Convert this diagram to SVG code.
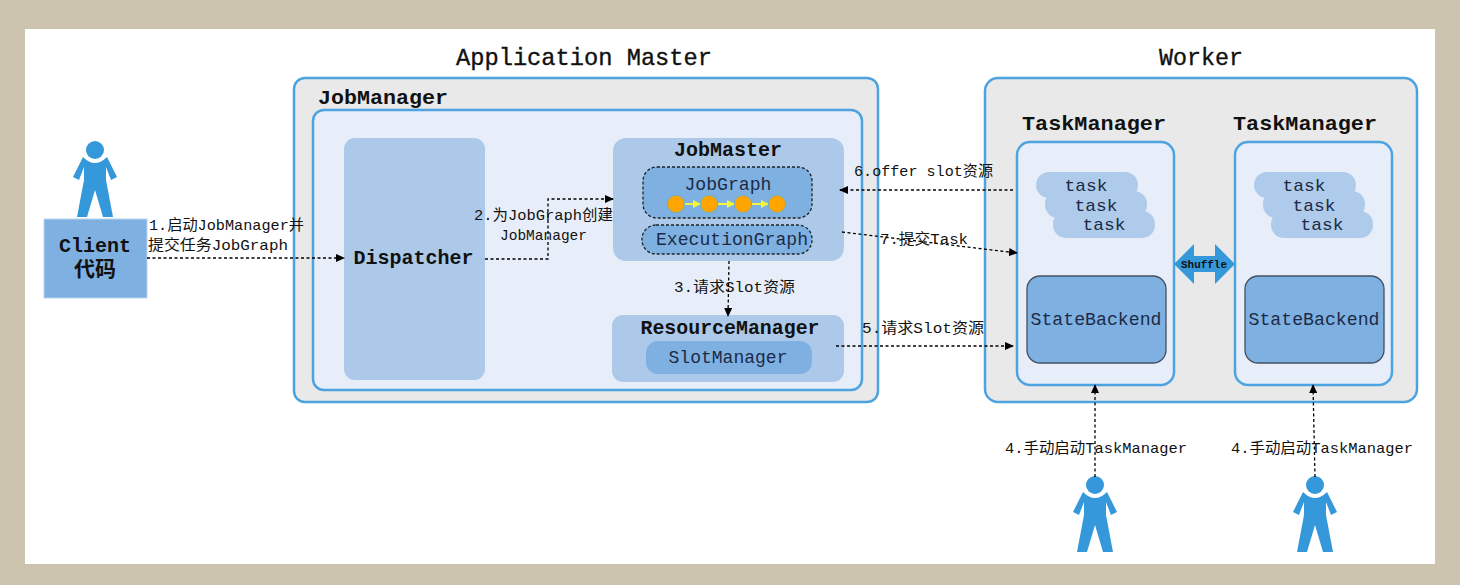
<svg xmlns="http://www.w3.org/2000/svg" width="1460" height="585" viewBox="0 0 1460 585">
<style>
text{font-family:"Liberation Mono","Noto Sans CJK SC",monospace;fill:#111}
.title{font-size:24px;stroke:#111;stroke-width:.35}
.h{font-size:21px;font-weight:bold}
.m{font-size:19px;fill:#1c2b45}
.t{font-size:17px;fill:#1c2b45}
.l{font-size:15px}
.outer{fill:#e9e9e9;stroke:#4da3e0;stroke-width:2.5}
.inner{fill:#e7eef9;stroke:#4da3e0;stroke-width:2.5}
.soft{fill:#acc9ea}
.mid{fill:#7fb0e2}
.dash{fill:#7fb0e2;stroke:#222;stroke-width:1.3;stroke-dasharray:3 2}
.pill{fill:#aecbec}
.sb{fill:#7fb0e2;stroke:#444f60;stroke-width:1.3}
.c{fill:none;stroke:#000;stroke-width:1.3;stroke-dasharray:3 2.5}
.dot{fill:#ffa500;stroke:#6fb0c0;stroke-width:1}
.y{stroke:#f5f53c;stroke-width:2;fill:none}
</style>
<defs>
<marker id="a" markerWidth="9" markerHeight="8" refX="8" refY="4" orient="auto" markerUnits="userSpaceOnUse"><path d="M0 0L9 4L0 8z" fill="#000"/></marker>
<marker id="ay" markerWidth="8" markerHeight="8" refX="8" refY="4" orient="auto" markerUnits="userSpaceOnUse"><path d="M0 0L8 4L0 8z" fill="#f5f53c"/></marker>
<g id="person"><ellipse cx="0" cy="0" rx="9" ry="9" fill="#3498db"/><path d="M-12 7Q0 19 12 7L22 27L16 30L11 17V30L18 67H8L0 40L-8 67H-18L-11 30V17L-16 30L-22 27Z" fill="#3498db"/></g>
</defs>
<rect width="1460" height="585" fill="#cdc4b0"/>
<rect x="25" y="29" width="1410" height="535" fill="#fff"/>

<g id="application-master">
<rect class="outer" x="294" y="78" width="584" height="324" rx="11"/>
<text class="title" x="584" y="65" text-anchor="middle" textLength="256" lengthAdjust="spacingAndGlyphs">Application Master</text>
</g>
<g id="jobmanager">
<text class="h" x="318" y="104" textLength="130" lengthAdjust="spacingAndGlyphs">JobManager</text>
<rect class="inner" x="313" y="110" width="549" height="280" rx="11"/>
</g>
<g id="dispatcher">
<rect class="soft" x="344" y="138" width="141" height="242" rx="11"/>
<text class="h" x="413.500" y="264" text-anchor="middle" textLength="120" lengthAdjust="spacingAndGlyphs">Dispatcher</text>
</g>
<g id="jobmaster">
<rect class="soft" x="613" y="138" width="231" height="123" rx="13"/>
<text class="h" x="728" y="156" text-anchor="middle" textLength="108" lengthAdjust="spacingAndGlyphs">JobMaster</text>
</g>
<g id="jobgraph">
<rect class="dash" x="643" y="167" width="169" height="51" rx="14"/>
<text class="m" x="728" y="190" text-anchor="middle" textLength="87" lengthAdjust="spacingAndGlyphs">JobGraph</text>
<path class="y" marker-end="url(#ay)" d="M685 204H701"/>
<path class="y" marker-end="url(#ay)" d="M718 204H735"/>
<path class="y" marker-end="url(#ay)" d="M751 204H769"/>
<circle class="dot" cx="676" cy="204" r="8.700"/>
<circle class="dot" cx="709" cy="204" r="8.700"/>
<circle class="dot" cx="743" cy="204" r="8.700"/>
<circle class="dot" cx="777" cy="204" r="8.700"/>
</g>
<g id="executiongraph">
<rect class="dash" x="642" y="225" width="170" height="29" rx="14"/>
<text class="m" x="732" y="245" text-anchor="middle" textLength="152" lengthAdjust="spacingAndGlyphs">ExecutionGraph</text>
</g>
<g id="resourcemanager">
<rect class="soft" x="612" y="315" width="232" height="67" rx="11"/>
<text class="h" x="730" y="334" text-anchor="middle" textLength="179" lengthAdjust="spacingAndGlyphs">ResourceManager</text>
</g>
<g id="slotmanager">
<rect class="mid" x="646" y="341" width="166" height="33" rx="12"/>
<text class="m" x="728" y="363" text-anchor="middle" textLength="119" lengthAdjust="spacingAndGlyphs">SlotManager</text>
</g>

<g id="worker">
<rect class="outer" x="985" y="78" width="432" height="324" rx="13"/>
<text class="title" x="1201" y="65" text-anchor="middle" textLength="84" lengthAdjust="spacingAndGlyphs">Worker</text>
</g>
<g id="taskmanager-1">
<text class="h" x="1094" y="130" text-anchor="middle" textLength="144" lengthAdjust="spacingAndGlyphs">TaskManager</text>
<rect class="inner" x="1017" y="142" width="157" height="243" rx="13"/>
<rect class="pill" x="1036" y="172" width="102" height="26" rx="13"/>
<rect class="pill" x="1045" y="191" width="102" height="27" rx="13"/>
<rect class="pill" x="1053" y="211" width="102" height="27" rx="13"/>
<text class="t" x="1086" y="191" text-anchor="middle" textLength="43" lengthAdjust="spacingAndGlyphs">task</text>
<text class="t" x="1096" y="211" text-anchor="middle" textLength="43" lengthAdjust="spacingAndGlyphs">task</text>
<text class="t" x="1104" y="230" text-anchor="middle" textLength="43" lengthAdjust="spacingAndGlyphs">task</text>
<rect class="sb" x="1027" y="276" width="139" height="87" rx="13"/>
<text class="m" x="1096" y="325" text-anchor="middle" textLength="131" lengthAdjust="spacingAndGlyphs">StateBackend</text>
</g>
<g id="taskmanager-2">
<text class="h" x="1305" y="130" text-anchor="middle" textLength="144" lengthAdjust="spacingAndGlyphs">TaskManager</text>
<rect class="inner" x="1235" y="142" width="157" height="243" rx="13"/>
<rect class="pill" x="1254" y="172" width="102" height="26" rx="13"/>
<rect class="pill" x="1263" y="191" width="102" height="27" rx="13"/>
<rect class="pill" x="1271" y="211" width="102" height="27" rx="13"/>
<text class="t" x="1304" y="191" text-anchor="middle" textLength="43" lengthAdjust="spacingAndGlyphs">task</text>
<text class="t" x="1314" y="211" text-anchor="middle" textLength="43" lengthAdjust="spacingAndGlyphs">task</text>
<text class="t" x="1322" y="230" text-anchor="middle" textLength="43" lengthAdjust="spacingAndGlyphs">task</text>
<rect class="sb" x="1245" y="276" width="139" height="87" rx="13"/>
<text class="m" x="1314" y="325" text-anchor="middle" textLength="131" lengthAdjust="spacingAndGlyphs">StateBackend</text>
</g>
<g id="shuffle">
<path fill="#3498db" d="M1174 264L1194 244V256H1215V244L1235 264L1215 284V272H1194V284Z"/>
<text x="1204" y="268" text-anchor="middle" font-size="11" font-weight="bold" textLength="46" lengthAdjust="spacingAndGlyphs">Shuffle</text>
</g>

<g id="client">
<use href="#person" x="95" y="150"/>
<rect x="44" y="219" width="103" height="79" fill="#7fb0e2" stroke="#b9d3ee" stroke-width="1"/>
<text class="h" x="95" y="252" text-anchor="middle" textLength="72" lengthAdjust="spacingAndGlyphs">Client</text>
<text class="h" x="95" y="276" text-anchor="middle">代码</text>
</g>
<use id="user-1" href="#person" x="1095" y="485"/>
<use id="user-2" href="#person" x="1315" y="485"/>

<g id="connectors">
<path class="c" marker-end="url(#a)" d="M147 258H344"/>
<path class="c" marker-end="url(#a)" d="M485 259H548V199H613"/>
<path class="c" marker-end="url(#a)" d="M729 261L728 316"/>
<path class="c" marker-end="url(#a)" d="M836 346H1013"/>
<path class="c" marker-end="url(#a)" d="M1013 190H840"/>
<path class="c" marker-end="url(#a)" d="M842 232L1017 253"/>
<path class="c" marker-end="url(#a)" d="M1095 477V385"/>
<path class="c" marker-end="url(#a)" d="M1315 477L1313 385"/>
</g>
<g id="labels">
<text class="l" x="149" y="230" textLength="155" lengthAdjust="spacingAndGlyphs">1.启动JobManager并</text>
<text class="l" x="148" y="250" textLength="140" lengthAdjust="spacingAndGlyphs">提交任务JobGraph</text>
<text class="l" x="474" y="220" textLength="139" lengthAdjust="spacingAndGlyphs">2.为JobGraph创建</text>
<text class="l" x="500" y="240" textLength="87" lengthAdjust="spacingAndGlyphs">JobManager</text>
<text class="l" x="674" y="292" textLength="121" lengthAdjust="spacingAndGlyphs">3.请求Slot资源</text>
<text class="l" x="862" y="333" textLength="122" lengthAdjust="spacingAndGlyphs">5.请求Slot资源</text>
<text class="l" x="854" y="176" textLength="139" lengthAdjust="spacingAndGlyphs">6.offer slot资源</text>
<text class="l" x="880" y="244" textLength="88" lengthAdjust="spacingAndGlyphs">7.提交Task</text>
<text class="l" x="1005" y="453" textLength="182" lengthAdjust="spacingAndGlyphs">4.手动启动TaskManager</text>
<text class="l" x="1231" y="453" textLength="182" lengthAdjust="spacingAndGlyphs">4.手动启动TaskManager</text>
</g>
</svg>
